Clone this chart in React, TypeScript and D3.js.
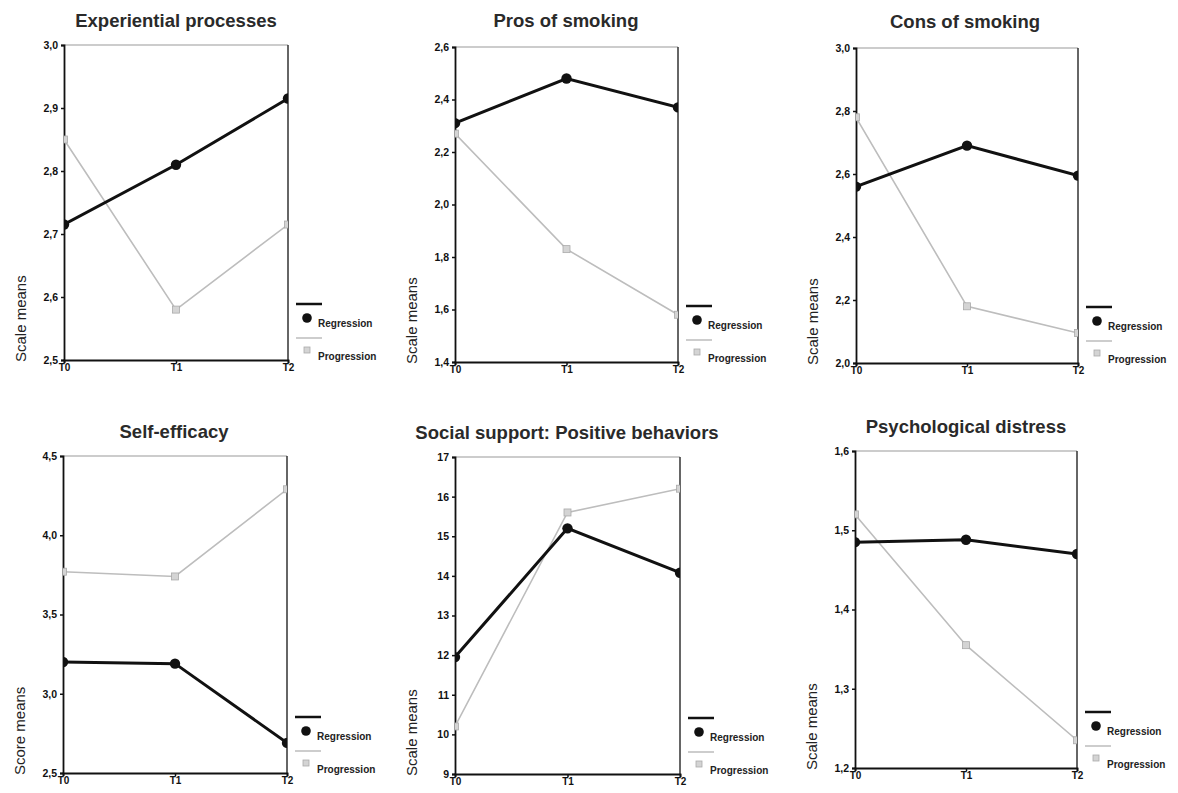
import * as d3 from "d3";
import React, { useRef, useEffect } from "react";

// time points
const times = ["T0", "T1", "T2"];

// series values
const expRegression = [2.715, 2.81, 2.915];
const expProgression = [2.85, 2.58, 2.715];
const prosRegression = [2.31, 2.48, 2.37];
const prosProgression = [2.27, 1.83, 1.58];
const consRegression = [2.56, 2.69, 2.595];
const consProgression = [2.78, 2.18, 2.095];
const selfRegression = [3.2, 3.19, 2.69];
const selfProgression = [3.77, 3.74, 4.29];
const socialRegression = [11.95, 15.2, 14.08];
const socialProgression = [10.2, 15.6, 16.2];
const distressRegression = [1.485, 1.488, 1.47];
const distressProgression = [1.52, 1.355, 1.235];

// y axis ticks
const expTicks = [2.5, 2.6, 2.7, 2.8, 2.9, 3.0];
const prosTicks = [1.4, 1.6, 1.8, 2.0, 2.2, 2.4, 2.6];
const consTicks = [2.0, 2.2, 2.4, 2.6, 2.8, 3.0];
const selfTicks = [2.5, 3.0, 3.5, 4.0, 4.5];
const socialTicks = [9, 10, 11, 12, 13, 14, 15, 16, 17];
const distressTicks = [1.2, 1.3, 1.4, 1.5, 1.6];

const panels = [
  { title: "Experiential processes", yLabel: "Scale means", reg: expRegression, prog: expProgression, ticks: expTicks, dec: 1, x0: 64, x1: 288, y0: 45, y1: 360, tx: 176, ty: 27 },
  { title: "Pros of smoking", yLabel: "Scale means", reg: prosRegression, prog: prosProgression, ticks: prosTicks, dec: 1, x0: 455, x1: 678, y0: 47, y1: 362, tx: 566, ty: 27 },
  { title: "Cons of smoking", yLabel: "Scale means", reg: consRegression, prog: consProgression, ticks: consTicks, dec: 1, x0: 856, x1: 1078, y0: 48, y1: 363, tx: 965, ty: 28 },
  { title: "Self-efficacy", yLabel: "Score means", reg: selfRegression, prog: selfProgression, ticks: selfTicks, dec: 1, x0: 63, x1: 287, y0: 456, y1: 773, tx: 174, ty: 438 },
  { title: "Social support: Positive behaviors", yLabel: "Scale means", reg: socialRegression, prog: socialProgression, ticks: socialTicks, dec: 0, x0: 455, x1: 680, y0: 457, y1: 774, tx: 567, ty: 439 },
  { title: "Psychological distress", yLabel: "Scale means", reg: distressRegression, prog: distressProgression, ticks: distressTicks, dec: 1, x0: 855, x1: 1077, y0: 451, y1: 768, tx: 966, ty: 433 },
];

const black = "#111";
const gray = "#bdbdbd";
const font = "Liberation Sans, Arial, sans-serif";

export default function App() {
  const ref = useRef<SVGSVGElement>(null);

  useEffect(() => {
    const svg = d3.select(ref.current);
    svg.selectAll("*").remove();

    panels.forEach((p, idx) => {
      const g = svg.append("g");
      const x = d3.scalePoint<string>().domain(times).range([p.x0, p.x1]);
      const y = d3
        .scaleLinear()
        .domain([p.ticks[0], p.ticks[p.ticks.length - 1]])
        .range([p.y1, p.y0]);

      // title
      g.append("text")
        .attr("x", p.tx)
        .attr("y", p.ty)
        .attr("text-anchor", "middle")
        .attr("font-family", font)
        .attr("font-size", 18.5)
        .attr("font-weight", "bold")
        .attr("fill", "#2a2a2a")
        .text(p.title);

      // frame
      g.append("line").attr("x1", p.x0).attr("x2", p.x1).attr("y1", p.y0).attr("y2", p.y0)
        .attr("stroke", "#999").attr("stroke-width", 1);
      g.append("line").attr("x1", p.x1).attr("x2", p.x1).attr("y1", p.y0).attr("y2", p.y1)
        .attr("stroke", "#333").attr("stroke-width", 1.5);

      // y axis
      const fmt = (d: number) => d.toFixed(p.dec).replace(".", ",");
      const ya = g.append("g")
        .attr("transform", `translate(${p.x0},0)`)
        .call(d3.axisLeft(y).tickValues(p.ticks).tickSize(3).tickPadding(3).tickFormat(fmt as any));
      ya.select(".domain").attr("stroke", black).attr("stroke-width", 1.8);
      ya.selectAll(".tick line").attr("stroke", black).attr("stroke-width", 1.5);
      ya.selectAll("text")
        .attr("font-family", font)
        .attr("font-size", 10.5)
        .attr("font-weight", "bold")
        .attr("fill", black);

      // x axis
      const xa = g.append("g")
        .attr("transform", `translate(0,${p.y1})`)
        .call(d3.axisBottom(x).tickSize(3).tickPadding(1));
      xa.select(".domain").attr("stroke", black).attr("stroke-width", 1.8);
      xa.selectAll(".tick line").attr("stroke", black).attr("stroke-width", 1.5);
      xa.selectAll("text")
        .attr("font-family", font)
        .attr("font-size", 10)
        .attr("font-weight", "bold")
        .attr("fill", black);

      // y label
      g.append("text")
        .attr("transform", `translate(${p.x0 - 38},${p.y1 + 2}) rotate(-90)`)
        .attr("font-family", font)
        .attr("font-size", 15)
        .attr("fill", "#222")
        .text(p.yLabel);

      // clip
      const clipId = `clip${idx}`;
      svg.append("clipPath").attr("id", clipId)
        .append("rect")
        .attr("x", p.x0).attr("y", p.y0)
        .attr("width", p.x1 - p.x0).attr("height", p.y1 - p.y0);

      const plot = g.append("g").attr("clip-path", `url(#${clipId})`);
      const line = d3.line<number>().x((d, i) => x(times[i])!).y(d => y(d));

      plot.append("path").datum(p.prog).attr("d", line)
        .attr("fill", "none").attr("stroke", gray).attr("stroke-width", 1.6);
      plot.selectAll(".sq").data(p.prog).enter().append("rect")
        .attr("x", (d, i) => x(times[i])! - 3.5)
        .attr("y", d => y(d) - 3.5)
        .attr("width", 7).attr("height", 7)
        .attr("fill", "#d4d4d4").attr("stroke", "#aaa").attr("stroke-width", 0.8);

      plot.append("path").datum(p.reg).attr("d", line)
        .attr("fill", "none").attr("stroke", black).attr("stroke-width", 3);
      plot.selectAll(".dot").data(p.reg).enter().append("circle")
        .attr("cx", (d, i) => x(times[i])!)
        .attr("cy", d => y(d))
        .attr("r", 5.2)
        .attr("fill", black);

      // legend
      const lx = p.x1 + 8;
      const lb = p.y1;
      g.append("line").attr("x1", lx).attr("x2", lx + 26).attr("y1", lb - 56).attr("y2", lb - 56)
        .attr("stroke", black).attr("stroke-width", 2.5);
      g.append("circle").attr("cx", lx + 11).attr("cy", lb - 42).attr("r", 4.8).attr("fill", black);
      g.append("text").attr("x", lx + 22).attr("y", lb - 33)
        .attr("font-family", font)
        .attr("font-size", 10).attr("font-weight", "bold").attr("fill", "#222")
        .text("Regression");
      g.append("line").attr("x1", lx).attr("x2", lx + 26).attr("y1", lb - 22).attr("y2", lb - 22)
        .attr("stroke", gray).attr("stroke-width", 1.5);
      g.append("rect").attr("x", lx + 8).attr("y", lb - 13).attr("width", 6).attr("height", 6)
        .attr("fill", "#d4d4d4").attr("stroke", "#aaa").attr("stroke-width", 0.8);
      g.append("text").attr("x", lx + 22).attr("y", lb)
        .attr("font-family", font)
        .attr("font-size", 10).attr("font-weight", "bold").attr("fill", "#222")
        .text("Progression");
    });
  }, []);

  return (
    <svg
      ref={ref}
      width={1178}
      height={793}
      style={{ position: "absolute", left: 0, top: 0, background: "#fff" }}
    ></svg>
  );
}
